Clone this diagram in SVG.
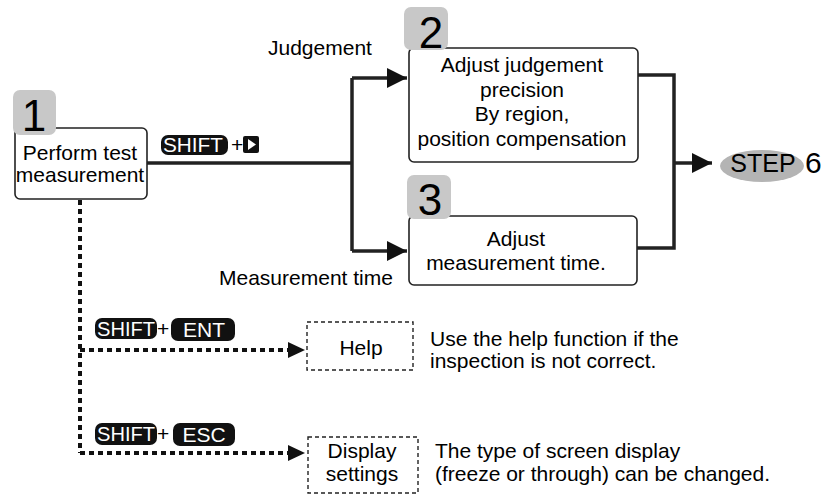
<svg xmlns="http://www.w3.org/2000/svg" width="833" height="494" viewBox="0 0 833 494">
<defs>
<style>
text{font-family:"Liberation Sans",Arial,sans-serif;font-size:21px;fill:#000}
.c{text-anchor:middle}
.box{fill:#fff;stroke:#222;stroke-width:1.6}
.dbox{fill:#fff;stroke:#222;stroke-width:1.4;stroke-dasharray:4 3}
.badge{fill:#c8c8c8}
.num{font-size:44px;text-anchor:middle}
.ln{fill:none;stroke:#222;stroke-width:3.5}
.dl{fill:none;stroke:#111;stroke-width:4;stroke-dasharray:5 4}
.key{fill:#111}
.kt{fill:#fff;font-size:21px}
</style>
<marker id="ah" viewBox="0 0 20 20" refX="20" refY="10" markerWidth="20" markerHeight="20" markerUnits="userSpaceOnUse" orient="auto"><path d="M0,0 L20,10 L0,20 Z" fill="#111"/></marker>
<marker id="ahs" viewBox="0 0 17 16" refX="17" refY="8" markerWidth="17" markerHeight="16" markerUnits="userSpaceOnUse" orient="auto"><path d="M0,0 L17,8 L0,16 Z" fill="#111"/></marker>
</defs>
<rect width="833" height="494" fill="#fff"/>

<g id="connectors">
<path class="ln" d="M147,163 H352"/>
<path class="ln" d="M352,78 V251"/>
<path class="ln" d="M352,78 H407" marker-end="url(#ah)"/>
<path class="ln" d="M352,251 H407" marker-end="url(#ah)"/>
<path class="ln" d="M638,75 H674 V248 H637"/>
<path class="ln" d="M674,163 H712" marker-end="url(#ah)"/>
<path class="dl" d="M80,200 V453"/>
<path class="dl" d="M80,350 H305" marker-end="url(#ahs)"/>
<path class="dl" d="M80,453 H305" marker-end="url(#ahs)"/>
</g>

<g id="label-judgement"><text x="268" y="55">Judgement</text></g>
<g id="label-measurement-time"><text x="219" y="285">Measurement time</text></g>

<g id="key-shift-right">
<rect class="key" x="161" y="135" width="67" height="20" rx="7"/>
<text class="kt" x="163" y="152" textLength="60" lengthAdjust="spacingAndGlyphs">SHIFT</text>
<text x="231" y="152">+</text>
<rect class="key" x="243" y="136" width="16" height="17" rx="2"/>
<path d="M248,139 L256,144.5 L248,150 Z" fill="#fff"/>
</g>

<g id="node1">
<rect class="box" x="15" y="128" width="132" height="71" rx="5"/>
<rect class="badge" x="13" y="90" width="43" height="45" rx="7"/>
<text class="num" x="34" y="131">1</text>
<text class="c" x="80" y="160">Perform test</text>
<text class="c" x="80" y="182">measurement</text>
</g>

<g id="node2">
<rect class="box" x="409" y="48" width="229" height="114" rx="5"/>
<rect class="badge" x="404" y="7" width="44" height="43" rx="7"/>
<text class="num" x="431" y="48">2</text>
<text class="c" x="522" y="72">Adjust judgement</text>
<text class="c" x="522" y="97">precision</text>
<text class="c" x="522" y="121">By region,</text>
<text class="c" x="522" y="146">position compensation</text>
</g>

<g id="node3">
<rect class="box" x="409" y="216" width="228" height="69" rx="5"/>
<rect class="badge" x="407" y="175" width="44" height="44" rx="7"/>
<text class="num" x="430" y="215">3</text>
<text class="c" x="516" y="246">Adjust</text>
<text class="c" x="516" y="270">measurement time.</text>
</g>

<g id="step6">
<ellipse cx="762" cy="166" rx="42" ry="16" fill="#b4b4b4"/>
<text class="c" x="763" y="172" style="font-size:25px">STEP</text>
<text x="805" y="173" style="font-size:30px">6</text>
</g>

<g id="key-shift-ent">
<rect class="key" x="95" y="318" width="62" height="21" rx="7"/>
<text class="kt" x="97" y="336" textLength="58" lengthAdjust="spacingAndGlyphs">SHIFT</text>
<text x="157" y="336">+</text>
<rect class="key" x="171" y="318" width="64" height="23" rx="7"/>
<text class="kt c" x="204" y="337">ENT</text>
</g>

<g id="help">
<rect class="dbox" x="307" y="322" width="106" height="48"/>
<text class="c" x="361" y="355">Help</text>
<text x="430" y="346">Use the help function if the</text>
<text x="430" y="368">inspection is not correct.</text>
</g>

<g id="key-shift-esc">
<rect class="key" x="95" y="423" width="62" height="22" rx="7"/>
<text class="kt" x="97" y="441" textLength="58" lengthAdjust="spacingAndGlyphs">SHIFT</text>
<text x="157" y="441">+</text>
<rect class="key" x="173" y="423" width="62" height="23" rx="7"/>
<text class="kt c" x="204" y="442">ESC</text>
</g>

<g id="display-settings">
<rect class="dbox" x="308" y="437" width="110" height="56"/>
<text class="c" x="362" y="458">Display</text>
<text class="c" x="362" y="481">settings</text>
<text x="435" y="458">The type of screen display</text>
<text x="435" y="481">(freeze or through) can be changed.</text>
</g>
</svg>
